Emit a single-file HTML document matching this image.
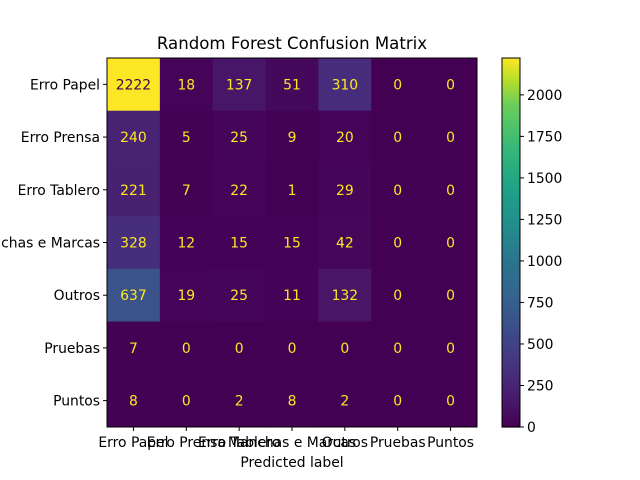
<!DOCTYPE html>
<html><head><meta charset="utf-8"><style>
html,body{margin:0;padding:0;background:#fff;}
svg{display:block;font-family:"DejaVu Sans","Liberation Sans",sans-serif;}
</style></head><body>
<svg id="chart" width="640" height="480" viewBox="0 0 640 480">
<rect width="640" height="480" fill="#fff"/>
<text x="292" y="49" font-size="16.6" text-anchor="middle">Random Forest Confusion Matrix</text>
<g id="cells"></g>
<g id="axes"></g>
<text x="292" y="467" font-size="13.9" text-anchor="middle">Predicted label</text>
</svg>
<script>
const labels = ["Erro Papel","Erro Prensa","Erro Tablero","Manchas e Marcas","Outros","Pruebas","Puntos"];
const row0 = [2222,18,137,51,310,0,0];
const row1 = [240,5,25,9,20,0,0];
const row2 = [221,7,22,1,29,0,0];
const row3 = [328,12,15,15,42,0,0];
const row4 = [637,19,25,11,132,0,0];
const row5 = [7,0,0,0,0,0,0];
const row6 = [8,0,2,8,2,0,0];
const matrix = [row0,row1,row2,row3,row4,row5,row6];
const cbTicks = [0,250,500,750,1000,1250,1500,1750,2000];

const NS="http://www.w3.org/2000/svg";
const L=107,R=477,T=58,B=427;
const FS=13.9;
const n=labels.length, cw=(R-L)/n, ch=(B-T)/n;
let vmax=-Infinity, vmin=Infinity;
matrix.forEach(r=>r.forEach(v=>{vmax=Math.max(vmax,v);vmin=Math.min(vmin,v);}));
const stops=[[0,"#440154"],[0.0625,"#481668"],[0.125,"#482878"],[0.1875,"#443983"],[0.25,"#3e4989"],[0.3125,"#375a8c"],[0.375,"#31688e"],[0.4375,"#2c728e"],[0.5,"#26828e"],[0.5625,"#21918c"],[0.625,"#1f9e89"],[0.6875,"#25ab82"],[0.75,"#35b779"],[0.8125,"#4ec36b"],[0.875,"#6ece58"],[0.9375,"#b5de2b"],[1,"#fde725"]];
function hex(h){return [1,3,5].map(i=>parseInt(h.substr(i,2),16));}
function viridis(t){t=Math.max(0,Math.min(1,t));for(let i=1;i<stops.length;i++){if(t<=stops[i][0]){const a=stops[i-1],b=stops[i];const f=(t-a[0])/(b[0]-a[0]);const ca=hex(a[1]),cb=hex(b[1]);return "rgb("+ca.map((c,k)=>Math.round(c+(cb[k]-c)*f)).join(",")+")";}}return stops[stops.length-1][1];}
function mk(tag,attrs,parent){const e=document.createElementNS(NS,tag);for(const k in attrs)e.setAttribute(k,attrs[k]);parent.appendChild(e);return e;}
const xs=j=>L+cw*j, ys=i=>T+ch*i;
const cells=document.getElementById('cells'), axes=document.getElementById('axes');
matrix.forEach((r,i)=>r.forEach((v,j)=>{
  const rc=mk('rect',{x:xs(j),y:ys(i),width:cw+0.5,height:ch+0.5,fill:viridis((v-vmin)/(vmax-vmin))},cells);
  
  
  const tx=mk('text',{x:xs(j)+cw/2,y:ys(i)+ch/2+5,'font-size':FS,'text-anchor':'middle',fill:v>(vmax+vmin)/2?'#440154':'#fde725'},cells);
  tx.textContent=v;
  
  
}));
mk('rect',{x:L,y:T,width:R-L,height:B-T,fill:'none',stroke:'#000','stroke-width':1},axes);
labels.forEach((lb,k)=>{
  const cx=xs(k)+cw/2, cy=ys(k)+ch/2;
  mk('line',{x1:cx,x2:cx,y1:B,y2:B+4,stroke:'#000'},axes);
  const t1=mk('text',{x:cx,y:B+20,'font-size':FS,'text-anchor':'middle'},axes);t1.textContent=lb;
  
  
  mk('line',{x1:L-4,x2:L,y1:cy,y2:cy,stroke:'#000'},axes);
  const t2=mk('text',{x:L-7,y:cy+5,'font-size':FS,'text-anchor':'end'},axes);t2.textContent=lb;
  
  
});
const CL=502,CR=520;
const cy=v=>B-(v-vmin)/(vmax-vmin)*(B-T);
const cb=mk('g',{},axes);


for(let p=0;p<200;p++){const v0=vmin+(vmax-vmin)*p/200,v1=vmin+(vmax-vmin)*(p+1)/200;mk('rect',{x:CL,y:cy(v1),width:CR-CL,height:cy(v0)-cy(v1)+0.6,fill:viridis((v0-vmin)/(vmax-vmin))},cb);}
mk('rect',{x:CL,y:T,width:CR-CL,height:B-T,fill:'none',stroke:'#000'},cb);
cbTicks.forEach(v=>{const y=cy(v);mk('line',{x1:CR,x2:CR+4,y1:y,y2:y,stroke:'#000'},cb);
  const t=mk('text',{x:CR+7,y:y+5,'font-size':FS},cb);t.textContent=v;
  
  });
</script>
</body></html>
